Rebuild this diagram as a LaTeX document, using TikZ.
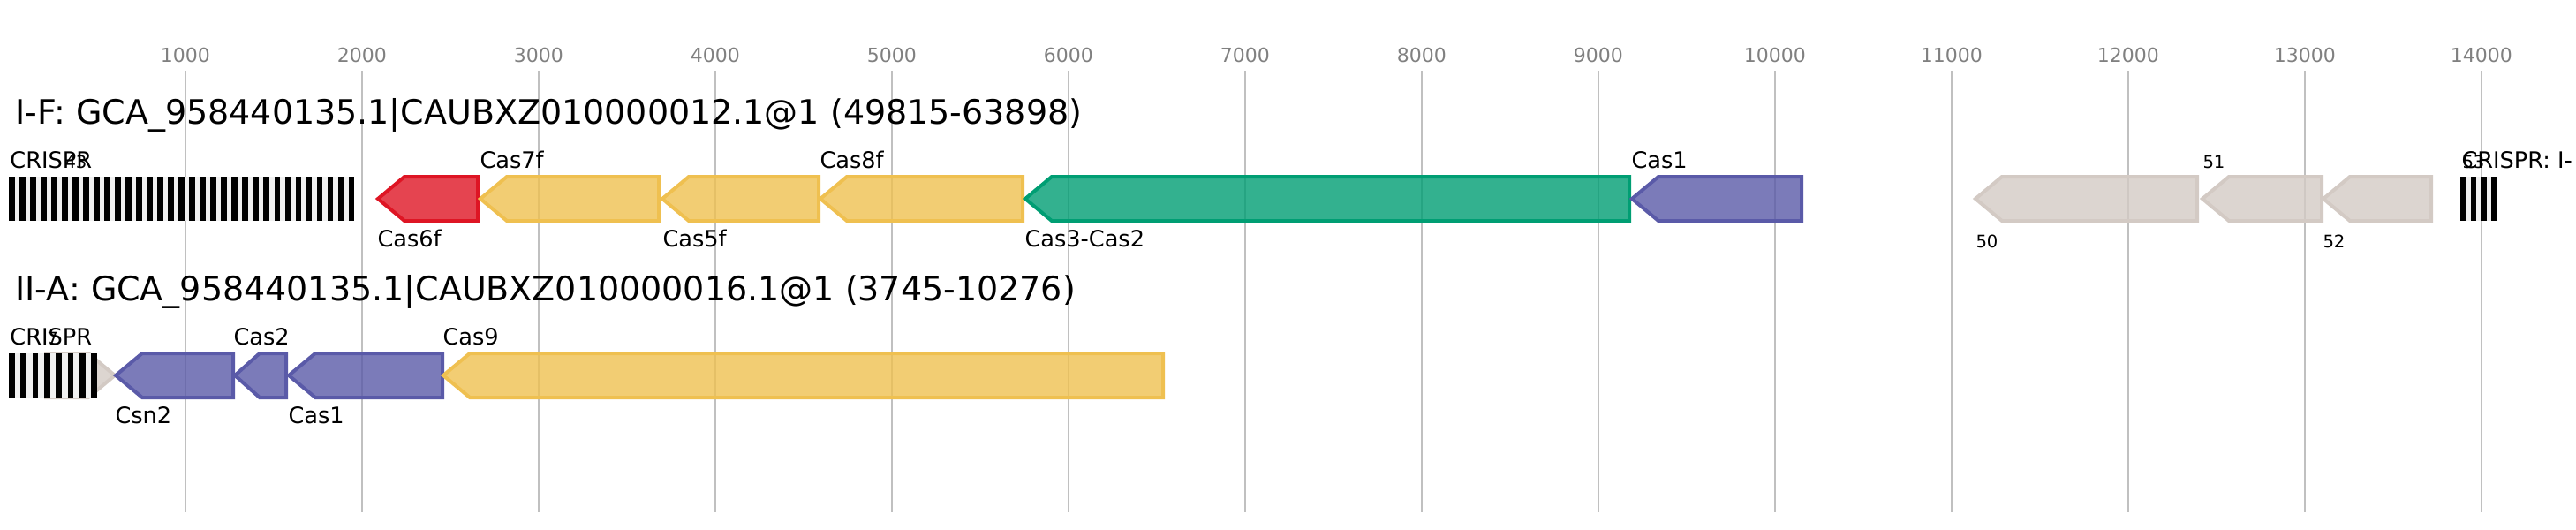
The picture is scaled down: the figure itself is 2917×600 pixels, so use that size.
\documentclass[tikz,border=0pt]{standalone}
\usepackage{fontspec}
\setmainfont{DejaVu Sans}

\definecolor{gridgray}{RGB}{192,192,192}
\definecolor{ticktext}{RGB}{128,128,128}
\definecolor{casred}{RGB}{222,21,36}
\definecolor{casyellow}{RGB}{239,192,80}
\definecolor{casgreen}{RGB}{0,158,115}
\definecolor{caspurple}{RGB}{90,90,168}
\definecolor{othergray}{RGB}{211,202,196}
\definecolor{spacergray}{RGB}{240,240,240}

\tikzset{every picture/.style={line width=0.75pt}}
\tikzset{
  gridline/.style={draw=gridgray, line width=0.5pt},
  ticklabel/.style={anchor=base, inner sep=0pt, text=ticktext, font=\fontsize{5.5}{6.5}\selectfont},
  titlelabel/.style={anchor=base west, inner sep=0pt, font=\fontsize{9.5}{11}\selectfont},
  genelabel/.style={anchor=base west, inner sep=0pt, font=\fontsize{6.4}{7.5}\selectfont},
  numlabel/.style={anchor=base west, inner sep=0pt, font=\fontsize{4.9}{5.5}\selectfont},
  gene/.style={line width=1pt, line join=miter, fill opacity=0.8},
  spacer/.style={fill=spacergray},
  repeatbar/.style={fill=black}
}

\begin{document}
\begin{tikzpicture}[x=0.25pt,y=0.25pt,yscale=-1,xscale=1]
\useasboundingbox (0,0) rectangle (2917,600);

%Grid lines and scale
\foreach \k in {1,...,14} {
  \draw [gridline] ({9.8+200*\k},80) -- ({9.8+200*\k},580);
  \draw ({9.8+200*\k},70) node [ticklabel] (tick\k) {\k000};
}

% Text Node
\draw (16,140) node [titlelabel] (titleIF) {I-F: GCA\_958440135.1|CAUBXZ010000012.1@1 (49815-63898)};
% Text Node
\draw (16,340) node [titlelabel] (titleIIA) {II-A: GCA\_958440135.1|CAUBXZ010000016.1@1 (3745-10276)};

%Shape: Gene Cas6f [row I-F]
\draw  [gene, draw=casred, fill=casred] (428,225) -- (458,200) -- (541,200) -- (541,250) -- (458,250) -- cycle ;
%Shape: Gene Cas7f
\draw  [gene, draw=casyellow, fill=casyellow] (544,225) -- (574,200) -- (746,200) -- (746,250) -- (574,250) -- cycle ;
%Shape: Gene Cas5f
\draw  [gene, draw=casyellow, fill=casyellow] (750,225) -- (780,200) -- (927,200) -- (927,250) -- (780,250) -- cycle ;
%Shape: Gene Cas8f
\draw  [gene, draw=casyellow, fill=casyellow] (929,225) -- (959,200) -- (1158,200) -- (1158,250) -- (959,250) -- cycle ;
%Shape: Gene Cas3-Cas2
\draw  [gene, draw=casgreen, fill=casgreen] (1161,225) -- (1191,200) -- (1845,200) -- (1845,250) -- (1191,250) -- cycle ;
%Shape: Gene Cas1
\draw  [gene, draw=caspurple, fill=caspurple] (1848,225) -- (1878,200) -- (2040,200) -- (2040,250) -- (1878,250) -- cycle ;
%Shape: Gene 50
\draw  [gene, draw=othergray, fill=othergray] (2237,225) -- (2267,200) -- (2488,200) -- (2488,250) -- (2267,250) -- cycle ;
%Shape: Gene 51
\draw  [gene, draw=othergray, fill=othergray] (2494,225) -- (2524,200) -- (2629,200) -- (2629,250) -- (2524,250) -- cycle ;
%Shape: Gene 52
\draw  [gene, draw=othergray, fill=othergray] (2631,225) -- (2661,200) -- (2753,200) -- (2753,250) -- (2661,250) -- cycle ;

%Shape: CRISPR array [row I-F, left]
\fill [spacer] (10,200) rectangle (401,250);
\foreach \i in {0,...,32} \fill [repeatbar] ({10+12.02*\i},200) rectangle ++(6.5,50);
%Shape: CRISPR array [row I-F, right]
\fill [spacer] (2786,200) rectangle (2827,250);
\foreach \i in {0,...,3} \fill [repeatbar] ({2786+11.5*\i},200) rectangle ++(6.5,50);

% Text Node
\draw (10,190) node [genelabel] (crisprA) {CRISPR};
% Text Node
\draw (72,190) node [numlabel] (numA) {43};
% Text Node
\draw (426,279) node [genelabel] (lblcassixf) {Cas6f};
% Text Node
\draw (542,190) node [genelabel] (lblcassevenf) {Cas7f};
% Text Node
\draw (749,279) node [genelabel] (lblcasfivef) {Cas5f};
% Text Node
\draw (927,190) node [genelabel] (lblcaseightf) {Cas8f};
% Text Node
\draw (1159,279) node [genelabel] (lblcasthree) {Cas3-Cas2};
% Text Node
\draw (1846,190) node [genelabel] (lblcasoneA) {Cas1};
% Text Node
\draw (2236,280) node [numlabel] (num50) {50};
% Text Node
\draw (2493,190) node [numlabel] (num51) {51};
% Text Node
\draw (2629,280) node [numlabel] (num52) {52};
% Text Node
\draw (2786,190) node [genelabel] (crisprB) {CRISPR: I-};
% Text Node
\draw (2787,190) node [numlabel] (num53) {53};

%Shape: Gene 7 [row II-A]
\draw  [gene, draw=othergray, fill=othergray] (52,400) -- (100,400) -- (130,425) -- (100,450) -- (52,450) -- cycle ;
%Shape: Gene Csn2
\draw  [gene, draw=caspurple, fill=caspurple] (131,425) -- (161,400) -- (264,400) -- (264,450) -- (161,450) -- cycle ;
%Shape: Gene Cas2
\draw  [gene, draw=caspurple, fill=caspurple] (266,425) -- (294,400) -- (324,400) -- (324,450) -- (294,450) -- cycle ;
%Shape: Gene Cas1
\draw  [gene, draw=caspurple, fill=caspurple] (327,425) -- (357,400) -- (501,400) -- (501,450) -- (357,450) -- cycle ;
%Shape: Gene Cas9
\draw  [gene, draw=casyellow, fill=casyellow] (502,425) -- (532,400) -- (1317,400) -- (1317,450) -- (532,450) -- cycle ;

%Shape: CRISPR array [row II-A]
\fill [spacer] (10,400) rectangle (110,450);
\foreach \i in {0,...,7} \fill [repeatbar] ({10+13.3*\i},400) rectangle ++(6.7,50);

% Text Node
\draw (10,390) node [genelabel] (crisprC) {CRISPR};
% Text Node
\draw (52,390) node [numlabel] (num7) {7};
% Text Node
\draw (129,479) node [genelabel] (lblcsntwo) {Csn2};
% Text Node
\draw (263,390) node [genelabel] (lblcastwo) {Cas2};
% Text Node
\draw (325,479) node [genelabel] (lblcasoneB) {Cas1};
% Text Node
\draw (500,390) node [genelabel] (lblcasnine) {Cas9};

\end{tikzpicture}
\end{document}
